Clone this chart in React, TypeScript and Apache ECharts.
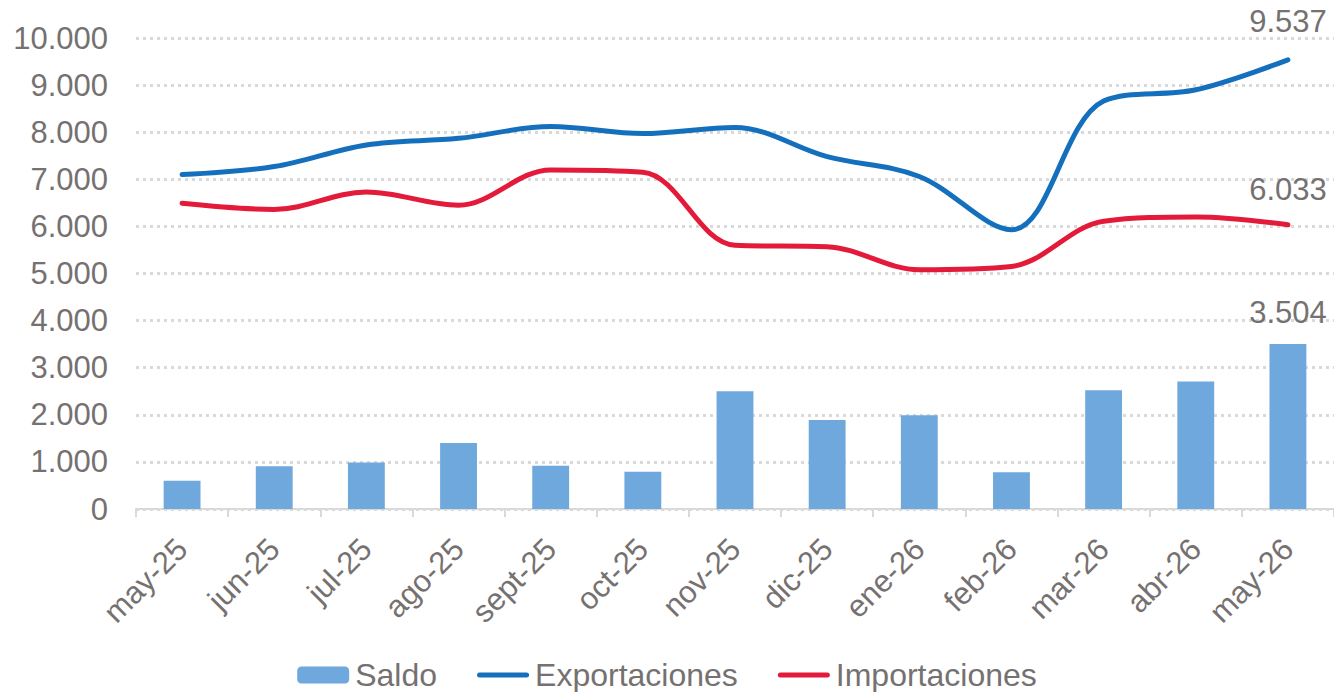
import React, { useEffect, useRef } from "react";
import * as echarts from "echarts";

const categories = ["may-25", "jun-25", "jul-25", "ago-25", "sept-25", "oct-25", "nov-25", "dic-25", "ene-26", "feb-26", "mar-26", "abr-26", "may-26"];
const saldo = [600, 905, 985, 1400, 920, 790, 2500, 1890, 1990, 780, 2520, 2705, 3504];
const exportaciones = [7100, 7270, 7730, 7870, 8120, 7970, 8100, 7480, 7060, 5930, 8660, 8900, 9537];
const importaciones = [6490, 6360, 6730, 6450, 7200, 7150, 5600, 5570, 5080, 5150, 6110, 6200, 6033];
const yTicks = { min: 0, max: 10000, interval: 1000 };

const FONT = "'Liberation Sans', Arial, sans-serif";
const GRAY = "#767171";
const BLUE = "#1470BD";
const RED = "#E31A39";
const fmt = (v: number) => String(Math.round(v)).replace(/\B(?=(\d{3})+(?!\d))/g, ".");
const LINE_ICON = "path://M2.5,0 L49.5,0 A2.5,2.5 0 0 1 49.5,5 L2.5,5 A2.5,2.5 0 0 1 2.5,0 Z";

const lastLabel = (n: number, dist: number) => ({
  show: true,
  position: "top",
  distance: dist,
  fontSize: 31,
  fontFamily: FONT,
  color: GRAY,
  formatter: (p: any) => (p.dataIndex === n - 1 ? fmt(p.value) : ""),
});

export default function App() {
  const ref = useRef<HTMLDivElement>(null);
  useEffect(() => {
    const chart = echarts.init(ref.current!, null, { renderer: "svg" });
    chart.setOption({
      animation: false,
      textStyle: { fontFamily: FONT },
      grid: { left: 136, right: 0, top: 38, bottom: 183, containLabel: false },
      legend: {
        top: 654,
        left: "center",
        itemWidth: 52,
        itemHeight: 17,
        itemGap: 40,
        textStyle: { fontSize: 32, color: GRAY, fontFamily: FONT, padding: [0, 0, 0, 1] },
        data: [
          { name: "Saldo" },
          { name: "Exportaciones", icon: LINE_ICON, itemStyle: { color: BLUE } },
          { name: "Importaciones", icon: LINE_ICON, itemStyle: { color: RED } },
        ],
      },
      xAxis: {
        type: "category",
        data: categories,
        axisLine: { lineStyle: { color: "#D9D9D9", width: 2 } },
        axisTick: { show: true, length: 8, lineStyle: { color: "#D9D9D9", width: 2 } },
        axisLabel: { rotate: 45, fontSize: 31, color: GRAY, fontFamily: FONT, margin: 35 },
      },
      yAxis: {
        type: "value",
        min: yTicks.min,
        max: yTicks.max,
        interval: yTicks.interval,
        axisLine: { show: false },
        axisTick: { show: false },
        axisLabel: { fontSize: 31, color: GRAY, fontFamily: FONT, margin: 28, formatter: (v: number) => fmt(v) },
        splitLine: { lineStyle: { color: "#D9D9D9", width: 3, type: [3, 4] } },
      },
      series: [
        {
          name: "Saldo",
          type: "bar",
          data: saldo,
          barWidth: "40%",
          itemStyle: { color: "#6FA8DC" },
          label: lastLabel(saldo.length, 16),
          z: 1,
        },
        {
          name: "Exportaciones",
          type: "line",
          data: exportaciones,
          smooth: 0.35,
          symbol: "circle",
          symbolSize: 0,
          showSymbol: true,
          lineStyle: { color: BLUE, width: 5, cap: "round" },
          itemStyle: { color: BLUE },
          label: lastLabel(exportaciones.length, 23),
          z: 3,
        },
        {
          name: "Importaciones",
          type: "line",
          data: importaciones,
          smooth: 0.35,
          symbol: "circle",
          symbolSize: 0,
          showSymbol: true,
          lineStyle: { color: RED, width: 5, cap: "round" },
          itemStyle: { color: RED },
          label: lastLabel(importaciones.length, 20),
          z: 2,
        },
      ],
    });
    return () => chart.dispose();
  }, []);
  return <div ref={ref} style={{ width: 1334, height: 692, position: "absolute", left: 0, top: 0, background: "#fff" }} />;
}
